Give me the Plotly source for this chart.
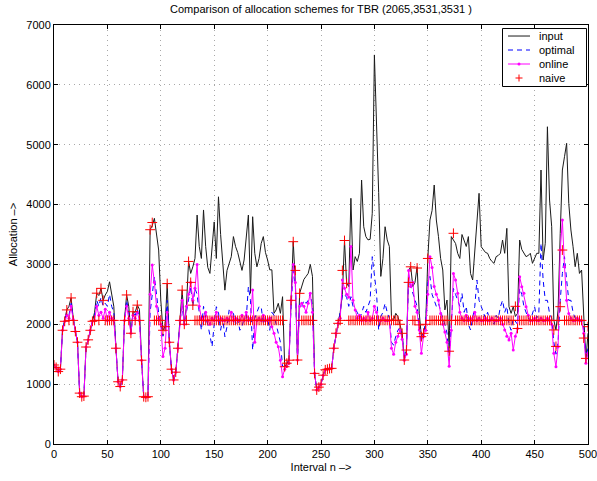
import plotly.graph_objects as go

# interval index (every second interval is sampled)
intervals = list(range(0, 501, 2))

input_alloc = [
    1320, 1280, 1210, 1250, 1900, 2050, 2240, 2300, 2440, 2100,
    1880, 1700, 850, 790, 800, 1620, 1740, 1900, 2050, 2200,
    2520, 2480, 2600, 2400, 2490, 2550, 2710, 2500, 2300, 1600,
    1040, 960, 1070, 2070, 2490, 2300, 1850, 2210, 2200, 2320,
    2250, 1400, 790, 780, 790,
    3580, 3650, 3770, 3450, 3240, 2400, 1900, 1960, 2680, 1700,
    1250, 1070, 1200, 1600, 2070, 2570, 2000, 2300, 3050, 2850,
    2960, 3100, 3825, 3300, 3100, 3910, 3300, 2950, 2850, 3300,
    3710, 3100, 4130, 3500, 3000, 2570, 2900, 3000, 3130, 3465,
    3300, 3200, 3020, 2900, 3074, 3400, 3825, 2517, 3797, 3186,
    2960, 3100, 3350, 3465, 3200, 3074, 2910, 2910, 2183, 2240,
    2350, 2183, 2461, 1291, 1350, 1400, 2400, 3380, 2700, 1403,
    2517, 2650, 2750, 2800, 2850, 3000, 2800, 1180, 902, 950,
    1000, 1150, 1240, 1250, 1260, 1264, 1600, 1850, 2016, 2200,
    2500, 3400, 2684, 2630, 4105, 2907, 3130, 3050, 3186, 4410,
    3630, 3465, 3410, 3420, 3854, 6500, 5413, 4200, 2800, 3100,
    3630, 3410, 3300, 2100, 2072, 2183, 2130, 2000, 1849, 1403,
    1570, 2900, 2962, 2630, 2700, 2962, 2183, 1793, 1849, 2000,
    3100, 3742, 3900, 4327, 3742, 3465, 3100, 2907, 2240, 2405,
    1600, 3465, 3400, 3350, 3186, 3100, 3500, 3400, 3300, 3465,
    2850, 2740, 3200, 3630, 4188, 3296, 3240, 3200, 3186, 3100,
    3050, 3018, 3130, 3150, 3186, 3408, 3186, 3603, 2294, 2183,
    2294, 2130, 2183, 3408, 3250, 3186, 3130, 3150, 3186, 3018,
    3100, 3186, 3186, 4577, 3074, 3353, 5300, 4076, 3630, 2072,
    1905, 2240, 3520, 4577, 4800, 5023, 4020, 3575, 3296, 2962,
    3186, 2850, 2907, 2183, 1403, 1850,
]

optimal_alloc = [
    1320, 1280, 1210, 1250, 1900, 2050, 2200, 2150, 2350, 2100,
    1880, 1700, 850, 790, 800, 1620, 1740, 1900, 2050, 2150,
    2400, 2300, 2450, 2300, 2350, 2300, 2500, 2300, 2200, 1600,
    1040, 960, 1070, 2065, 2400, 2200, 1850, 2200, 2150, 2250,
    2100, 1400, 790, 780, 790, 2200, 2500, 2795, 2500, 2183,
    2000, 1800, 1900, 2400, 1700, 1250, 1070, 1200, 1600, 2065,
    2300, 2000, 2200, 2400, 2630, 2300, 2600, 2500, 2200, 1900,
    2300, 2100, 2000, 1793, 1626, 2000, 2294, 2200, 1900, 2100,
    1793, 1960, 2240, 2200, 2183, 2000, 2100, 1900, 1960, 2100,
    2100, 2628, 2400, 1570, 2100, 2200, 2294, 2294, 2000, 2100,
    2100, 1900, 2200, 2150, 2000, 1900, 1700, 1300, 1291, 1350,
    1400, 2300, 2900, 2650, 1403, 2350, 2300, 2400, 2350, 2400,
    2517, 2300, 1180, 902, 950, 1000, 1150, 1240, 1250, 1260,
    1264, 1600, 1850, 2016, 2200, 2500, 2500, 2450, 2300, 2461,
    2300, 2250, 2200, 2100, 2183, 2300, 2200, 2300, 2400, 3130,
    2850, 2517, 1905, 2130, 2200, 2350, 2200, 2100, 1700, 1650,
    1800, 1900, 1950, 1800, 1450, 1600, 2740, 2630, 2500, 2400,
    2300, 1950, 1700, 1900, 2000, 2700, 2800, 2500, 2400, 2300,
    2350, 2200, 2100, 2000, 1850, 1400, 2000, 2600, 2500, 2400,
    2300, 2517, 2200, 2300, 2000, 1905, 2100, 2300, 2740, 2400,
    2300, 2180, 2100, 2200, 2065, 2100, 2000, 2150, 2100, 2294,
    2400, 2200, 2300, 2000, 1900, 2100, 2050, 2000, 2600, 2500,
    2300, 2200, 2100, 2065, 2200, 2294, 2100, 2200, 3353, 2740,
    2400, 2400, 2180, 2100, 1700, 1500, 1700, 2400, 2850, 3130,
    2740, 2400, 2400, 2200, 2100, 2065, 2100, 2000, 1950, 1450,
    1600,
]

online_alloc = [
    1320, 1280, 1210, 1250, 1900, 2050, 2150, 2100, 2300, 2080,
    1880, 1700, 850, 790, 800, 1620, 1740, 1900, 2050, 2065,
    2300, 2150, 2200, 2100, 2250, 2065, 2200, 2100, 2065, 1600,
    1040, 960, 1070, 2065, 2300, 2100, 1850, 2150, 2100, 2200,
    2065, 1400, 790, 780, 790, 2500, 2990, 2700, 2300, 2100,
    2000, 1460, 1600, 2200, 1700, 1250, 1070, 1200, 1600, 2065,
    2400, 2000, 2300, 2500, 2700, 2400, 2600, 3000, 2300, 2100,
    2065, 2200, 2065, 2000, 2100, 2065, 2200, 2065, 2100, 2065,
    2065, 2100, 2065, 2200, 2065, 2100, 2065, 2065, 2150, 2065,
    2200, 2065, 2100, 2573, 1700, 2065, 2100, 2065, 2150, 2065,
    2065, 2100, 1960, 1850, 1700, 1626, 1400, 1125, 1250, 1300,
    1350, 2400, 3000, 2700, 1403, 2300, 2350, 2300, 2200, 2350,
    2517, 2200, 1180, 902, 950, 1000, 1150, 1240, 1250, 1260,
    1264, 1600, 1850, 2016, 2100, 2740, 2600, 2500, 2450, 3300,
    2400, 2240, 2100, 2150, 2065, 2100, 2065, 2200, 2065, 2100,
    2300, 2200, 2065, 2065, 2100, 2065, 2065, 2065, 1600, 1500,
    1700, 1800, 1900, 1750, 1400, 1500, 2900, 2630, 2700, 2300,
    2200, 1905, 1515, 1800, 1900, 2500, 3130, 2950, 2630, 2500,
    2400, 2180, 2000, 1870, 1700, 1300, 1900, 2850, 2740, 2520,
    2200, 2100, 2065, 2150, 2065, 2100, 2065, 2200, 2065, 2100,
    2065, 2065, 2100, 2065, 2065, 2100, 2065, 2065, 2065, 2100,
    2000, 1905, 1800, 1737, 1850, 1570, 1800, 1930, 2795, 2628,
    2517, 2294, 2150, 2065, 2065, 2100, 2065, 2065, 2100, 2065,
    2065, 2100, 2065, 2000, 1515, 1291, 1626, 3240, 3742, 2962,
    2400, 2180, 2100, 2065, 2065, 2100, 2065, 2065, 1849, 1348,
    1515,
]

naive_alloc = [
    1320, 1280, 1210, 1250, 1900, 2050, 2240, 2065, 2440, 2065,
    1880, 1700, 850, 790, 800, 1620, 1740, 1900, 2050, 2065,
    2520, 2065, 2600, 2400, 2065, 2065, 2065, 2065, 2065, 1600,
    1040, 960, 1070, 2065, 2490, 2065, 1850, 2210, 2065, 2320,
    2065, 1400, 790, 780, 790, 3580, 3700, 2065, 2065, 2065,
    2065, 1900, 1960, 2680, 1700, 1250, 1070, 1200, 1600, 2065,
    2570, 2000, 2065, 3050, 2700, 2320, 2065, 2065, 2065, 2065,
    2065, 2065, 2065, 2065, 2065, 2065, 2065, 2065, 2065, 2065,
    2065, 2065, 2065, 2065, 2065, 2065, 2065, 2065, 2065, 2065,
    2065, 2065, 2065, 2065, 2065, 2065, 2065, 2065, 2065, 2065,
    2065, 2065, 2065, 2065, 2065, 2065, 2065, 2065, 1291, 1350,
    1400, 2400, 3380, 2900, 1403, 2517, 2065, 2065, 2065, 2065,
    2065, 2065, 1180, 902, 950, 1000, 1150, 1240, 1250, 1260,
    1264, 1600, 1850, 2016, 2065, 2900, 3400, 2684, 2065, 2065,
    2065, 2065, 2065, 2065, 2065, 2065, 2065, 2065, 2065, 2065,
    2065, 2065, 2065, 2065, 2065, 2065, 2065, 2065, 2065, 2065,
    2065, 2065, 2000, 1849, 1403, 1570, 2700, 2960, 2065, 2065,
    2940, 1990, 1793, 1849, 2000, 3100, 2065, 2065, 2065, 2065,
    2065, 2065, 2065, 2065, 2065, 1550, 2065, 3520, 2065, 2065,
    2065, 2065, 2065, 2065, 2065, 2065, 2065, 2065, 2065, 2065,
    2065, 2065, 2065, 2065, 2065, 2065, 2065, 2065, 2065, 2065,
    2065, 2065, 2065, 2065, 2065, 2065, 2300, 1930, 2065, 2065,
    2065, 2065, 2065, 2065, 2065, 2065, 2065, 2065, 2065, 2065,
    2065, 2065, 2065, 2065, 1905, 1630, 2065, 2294, 3240, 2065,
    2065, 2065, 2065, 2065, 2065, 2065, 2065, 2065, 1770, 1430,
    1960,
]

for series in (input_alloc, optimal_alloc, online_alloc, naive_alloc):
    assert len(series) == len(intervals), len(series)

x_ticks = list(range(0, 501, 50))
y_ticks = list(range(0, 7001, 1000))
legend_names = ["input", "optimal", "online", "naive"]

FONT = "Liberation Sans, Arial, Helvetica, sans-serif"
C_INPUT, C_OPT, C_ONLINE, C_NAIVE = "#1a1a1a", "#0000ff", "#ff00ff", "#ff0000"
OPT_DASH = "5px,4px"

fig = go.Figure()
fig.add_trace(go.Scatter(
    x=intervals, y=input_alloc, name="input", mode="lines",
    line=dict(color=C_INPUT, width=1),
))
fig.add_trace(go.Scatter(
    x=intervals, y=optimal_alloc, name="optimal", mode="lines",
    line=dict(color=C_OPT, width=1, dash=OPT_DASH),
))
fig.add_trace(go.Scatter(
    x=intervals, y=online_alloc, name="online", mode="lines+markers",
    line=dict(color=C_ONLINE, width=1),
    marker=dict(color=C_ONLINE, size=3, symbol="circle"),
))
fig.add_trace(go.Scatter(
    x=intervals, y=naive_alloc, name="naive", mode="markers",
    marker=dict(symbol="cross-thin", size=7, color=C_NAIVE,
                line=dict(color=C_NAIVE, width=1)),
))

axis_common = dict(
    showline=True, linecolor="black", linewidth=1, mirror="ticks",
    ticks="inside", ticklen=4, tickcolor="black", automargin=False,
    showgrid=True, gridcolor="#a8a8a8", griddash="1px,4px", gridwidth=1,
    zeroline=False, tickfont=dict(family=FONT, size=11, color="black"),
)

# boxed legend in the upper right corner of the axes
shapes = [dict(type="rect", xref="paper", yref="paper",
               x0=0.8399, x1=0.9972, y0=0.8532, y1=0.9916,
               line=dict(color="black", width=1), fillcolor="white",
               layer="above")]
annotations = []
row_y = [0.9737, 0.9403, 0.9069, 0.8735]
sx0, sx1, sxc, tx = 0.8502, 0.8914, 0.8708, 0.9045
for name, yy in zip(legend_names, row_y):
    if name == "input":
        shapes.append(dict(type="line", xref="paper", yref="paper",
                           x0=sx0, x1=sx1, y0=yy, y1=yy, layer="above",
                           line=dict(color=C_INPUT, width=1)))
    elif name == "optimal":
        shapes.append(dict(type="line", xref="paper", yref="paper",
                           x0=sx0, x1=sx1, y0=yy, y1=yy, layer="above",
                           line=dict(color=C_OPT, width=1, dash=OPT_DASH)))
    elif name == "online":
        shapes.append(dict(type="line", xref="paper", yref="paper",
                           x0=sx0, x1=sx1, y0=yy, y1=yy, layer="above",
                           line=dict(color=C_ONLINE, width=1)))
        shapes.append(dict(type="circle", xref="paper", yref="paper",
                           xsizemode="pixel", ysizemode="pixel",
                           xanchor=sxc, yanchor=yy,
                           x0=-1.5, x1=1.5, y0=-1.5, y1=1.5, layer="above",
                           fillcolor=C_ONLINE, line=dict(color=C_ONLINE, width=0)))
    else:
        shapes.append(dict(type="line", xref="paper", yref="paper",
                           xsizemode="pixel", ysizemode="pixel",
                           xanchor=sxc, yanchor=yy,
                           x0=-3.5, x1=3.5, y0=0, y1=0, layer="above",
                           line=dict(color=C_NAIVE, width=1)))
        shapes.append(dict(type="line", xref="paper", yref="paper",
                           xsizemode="pixel", ysizemode="pixel",
                           xanchor=sxc, yanchor=yy,
                           x0=0, x1=0, y0=-3.5, y1=3.5, layer="above",
                           line=dict(color=C_NAIVE, width=1)))
    annotations.append(dict(text=name, xref="paper", yref="paper",
                            x=tx, y=yy, xanchor="left", yanchor="middle",
                            showarrow=False,
                            font=dict(family=FONT, size=11, color="black")))

fig.update_layout(
    width=597, height=481,
    margin=dict(l=54, r=9, t=25, b=37),
    paper_bgcolor="white", plot_bgcolor="white",
    font=dict(family=FONT, size=11, color="black"),
    title=dict(
        text="Comparison of allocation schemes for TBR (2065,3531,3531 )",
        x=0.5, xref="paper", y=1 - 9 / 481, yref="container",
        xanchor="center", yanchor="middle",
        font=dict(family=FONT, size=11, color="black"),
    ),
    xaxis=dict(
        range=[0, 500], tickvals=x_ticks, ticklabeloverflow="allow",
        title=dict(text="Interval n –>", standoff=4,
                   font=dict(family=FONT, size=11)),
        **axis_common,
    ),
    yaxis=dict(
        range=[0, 7000], tickvals=y_ticks,
        title=dict(text="Allocation –>", standoff=6,
                   font=dict(family=FONT, size=11)),
        **axis_common,
    ),
    shapes=shapes,
    annotations=annotations,
    showlegend=False,
)

fig.write_html("out.html")
